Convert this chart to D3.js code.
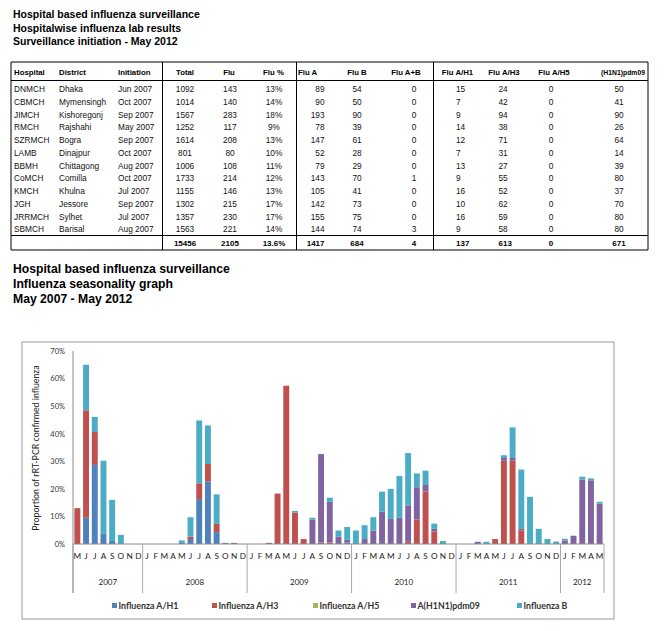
<!DOCTYPE html>
<html><head><meta charset="utf-8">
<script src="https://cdn.jsdelivr.net/npm/d3@7"></script>
<style>body{margin:0;background:#fff}svg{display:block}</style>
</head><body>
<script>
// ---------- TABLE DATA ----------
const hospitals = ["DNMCH","CBMCH","JIMCH","RMCH","SZRMCH","LAMB","BBMH","CoMCH","KMCH","JGH","JRRMCH","SBMCH"];
const districts = ["Dhaka","Mymensingh","Kishoregonj","Rajshahi","Bogra","Dinajpur","Chittagong","Comilla","Khulna","Jessore","Sylhet","Barisal"];
const initiation = ["Jun 2007","Oct 2007","Sep 2007","May 2007","Sep 2007","Oct 2007","Aug 2007","Oct 2007","Jul 2007","Sep 2007","Jul 2007","Aug 2007"];
const totalTested = [1092,1014,1567,1252,1614,801,1006,1733,1155,1302,1357,1563];
const fluPos = [143,140,283,117,208,80,108,214,146,215,230,221];
const fluPct = ["13%","14%","18%","9%","13%","10%","11%","12%","13%","17%","17%","14%"];
const fluA = [89,90,193,78,147,52,79,143,105,142,155,144];
const fluB = [54,50,90,39,61,28,29,70,41,73,75,74];
const fluAB = [0,0,0,0,0,0,0,1,0,0,0,3];
const fluH1 = [15,7,9,14,12,7,13,9,16,10,16,9];
const fluH3 = [24,42,94,38,71,31,27,55,52,62,59,58];
const fluH5 = [0,0,0,0,0,0,0,0,0,0,0,0];
const fluPdm = [50,41,90,26,64,14,39,80,37,70,80,80];
const totalsRow = ["","","","15456","2105","13.6%","1417","684","4","137","613","0","671"];
const tableHeaders = ["Hospital","District","Initiation","Total","Flu","Flu %","Flu A","Flu B","Flu A+B","Flu A/H1","Flu A/H3","Flu A/H5","(H1N1)pdm09"];

// ---------- CHART DATA (percent of tested, by month May 2007 - May 2012) ----------
const monthLabels = [
 "M","J","J","A","S","O","N","D",
 "J","F","M","A","M","J","J","A","S","O","N","D",
 "J","F","M","A","M","J","J","A","S","O","N","D",
 "J","F","M","A","M","J","J","A","S","O","N","D",
 "J","F","M","A","M","J","J","A","S","O","N","D",
 "J","F","M","A","M"];
const yearLabels = ["2007","2008","2009","2010","2011","2012"];
const yearMonthCounts = [8,12,12,12,12,5];
const seriesNames = ["Influenza A/H1","Influenza A/H3","Influenza A/H5","A(H1N1)pdm09","Influenza B"];
const h1 = [0,9.5,28.7,3.7,1.1,0,0,0,
 0,0,0,0,0.4,1.8,16.3,22.7,4.3,0.4,0,0,
 0,0,0,0,0,0,0,0,0,0,0,0.5,
 0,0,0,0,0,0,0,0,0,0,0,0,
 0,0,0,0,0,0,0,0,0,0,0,0,
 0,0,0,0,0];
const h3 = [13.0,39.0,11.9,0,0,0,0,0,
 0,0,0,0,0,0.9,5.7,6.3,3.0,0,0.4,0,
 0,0,0.4,18.3,57.4,11.4,1.8,0,0.5,0.6,0,0,
 0,0,0,0,0,0,0.8,8.9,19.0,4.5,0,0,
 0,0,0,0,1.8,30.2,30.2,4.9,0,0,0,0,
 0,0,0,0,0];
const h5 = [0,0,0,0,0,0,0,0,
 0,0,0,0,0,0,0,0,0,0,0,0,
 0,0,0,0,0,0,0,0,0,0,0,0,
 0,0,0,0,0,0,0,0,0,0,0,0,
 0,0,0,0,0,0,0,0,0,0,0,0,
 0,0,0,0,0];
const pdm09 = [0,0,0,0,0,0,0,0,
 0,0,0,0,0,0,0,0,0,0,0,0,
 0,0,0,0,0,0,0,8.9,32.1,14.7,2.7,1.0,
 0,1.8,4.9,11.7,9.1,9.5,13.2,11.7,2.4,1.0,0,0,
 0,0,0.8,0,0,1.0,1.0,0.8,0,0,0,0,
 1.3,3.0,23.4,23.1,14.7];
const fluBpct = [0,16.5,5.5,26.5,14.9,3.3,0,0,
 0,0,0,0,0.9,7.0,22.8,14.0,10.7,0,0,0,
 0,0,0,0,0,0.6,0,0.6,0,1.5,2.2,4.7,
 4.9,5.0,4.8,7.3,10.9,15.2,19.0,5.0,5.2,1.9,1.1,0,
 0,0,0,0.8,0,1.0,11.1,21.3,17.1,5.5,1.8,0.9,
 0.6,0,1.0,0.7,0.6];
const yTicks = [0,0.1,0.2,0.3,0.4,0.5,0.6,0.7];
const colors = ["#4F81BD","#C0504D","#9BBB59","#8064A2","#4BACC6"];

// ---------- SVG ----------
const W = 665, H = 631;
const svg = d3.select("body").append("svg").attr("width", W).attr("height", H);
const AR = "'Liberation Sans', Arial, sans-serif";

// Top titles
["Hospital based influenza surveillance","Hospitalwise influenza lab results","Surveillance initiation - May 2012"]
 .forEach((t,i)=>svg.append("text").attr("x",13).attr("y",18.3+i*13.5)
   .attr("font-family",AR).attr("font-weight","bold").attr("font-size",10.5).attr("fill","#000").text(t));

// Table
const tbl = svg.append("g").attr("font-family",AR).attr("font-size",8.3).attr("fill","#000");
const colDefs = [
 {hx:14,ha:"start",vx:14,va:"start"},
 {hx:59,ha:"start",vx:59,va:"start"},
 {hx:118,ha:"start",vx:118,va:"start"},
 {hx:185,ha:"middle",vx:185,va:"middle"},
 {hx:229,ha:"middle",vx:230,va:"middle"},
 {hx:273.5,ha:"middle",vx:274,va:"middle"},
 {hx:298,ha:"start",vx:324.5,va:"end"},
 {hx:357,ha:"middle",vx:357,va:"middle"},
 {hx:406,ha:"middle",vx:414,va:"middle"},
 {hx:457.5,ha:"middle",vx:456,va:"start"},
 {hx:504,ha:"middle",vx:498.5,va:"start"},
 {hx:554,ha:"middle",vx:551,va:"middle"},
 {hx:623,ha:"middle",vx:619,va:"middle"}];
const rows = hospitals.map((h,i)=>[h,districts[i],initiation[i],totalTested[i],fluPos[i],fluPct[i],fluA[i],fluB[i],fluAB[i],fluH1[i],fluH3[i],fluH5[i],fluPdm[i]]);
const tL = 11, tR = 648, tTop = 62, tHead = 80.5, tTot = 235.5, tBot = 250;
[tTop,tHead,tTot,tBot].forEach(y=>tbl.append("line").attr("x1",tL).attr("x2",tR).attr("y1",y).attr("y2",y).attr("stroke","#000").attr("stroke-width",1));
[tL,162.5,296.5,433.5,tR].forEach(x=>tbl.append("line").attr("x1",x).attr("x2",x).attr("y1",tTop).attr("y2",tBot).attr("stroke","#000").attr("stroke-width",1));
tableHeaders.forEach((h,j)=>{
  const t = tbl.append("text").attr("x",colDefs[j].hx).attr("y",75).attr("text-anchor",colDefs[j].ha).attr("font-weight","bold").attr("font-size",7.8).text(h);
  if (j === tableHeaders.length-1) t.attr("textLength",44).attr("lengthAdjust","spacingAndGlyphs");
});
rows.forEach((r,i)=>r.forEach((v,j)=>tbl.append("text").attr("x",colDefs[j].vx).attr("y",92+i*12.75).attr("text-anchor",colDefs[j].va).attr("fill","#111").text(v)));
totalsRow.forEach((v,j)=>{ if(v!=="") tbl.append("text").attr("x",colDefs[j].vx).attr("y",246).attr("text-anchor",colDefs[j].va).attr("font-weight","bold").attr("font-size",8).text(v);});

// Second titles
["Hospital based influenza surveillance","Influenza seasonality graph","May 2007 - May 2012"]
 .forEach((t,i)=>svg.append("text").attr("x",13).attr("y",273+i*15.2)
   .attr("font-family",AR).attr("font-weight","bold").attr("font-size",12.2).attr("fill","#000").text(t));

// Chart frame
const CF = "Lato, 'Open Sans', sans-serif";
svg.append("rect").attr("x",22).attr("y",342).attr("width",592).attr("height",277).attr("fill","#fff").attr("stroke","#9a9a9a").attr("stroke-width",1);

const x0 = 73, x1 = 604, y0 = 544, yTop = 351;
const x = d3.scaleBand().domain(d3.range(monthLabels.length)).range([x0,x1]).paddingInner(0.32).paddingOuter(0.16);
const y = d3.scaleLinear().domain([0,0.7]).range([y0,yTop]);

const data = monthLabels.map((m,i)=>({i, h1:h1[i]/100, h3:h3[i]/100, h5:h5[i]/100, pdm:pdm09[i]/100, b:fluBpct[i]/100}));
const keys = ["h1","h3","h5","pdm","b"];
const stacked = d3.stack().keys(keys)(data);

const g = svg.append("g");
stacked.forEach((layer,k)=>{
  g.append("g").attr("fill",colors[k]).selectAll("rect").data(layer.filter(d=>d[1]-d[0]>0)).join("rect")
   .attr("x",d=>x(d.data.i)).attr("width",x.bandwidth())
   .attr("y",d=>y(d[1])).attr("height",d=>y(d[0])-y(d[1]));
});

// y axis
const yAxis = d3.axisLeft(y).tickValues(yTicks).tickFormat(d3.format(".0%")).tickSize(0).tickPadding(8);
const ya = svg.append("g").attr("transform",`translate(${x0},0)`).call(yAxis);
ya.select(".domain").remove();
ya.selectAll("text").attr("font-family",CF).attr("font-size",7.5).attr("fill","#333");
svg.append("line").attr("x1",x0).attr("x2",x0).attr("y1",yTop).attr("y2",593).attr("stroke","#8a8a8a");
svg.append("line").attr("x1",x0).attr("x2",x1).attr("y1",y0).attr("y2",y0).attr("stroke","#8a8a8a");

// Y title
svg.append("text").attr("transform","translate(39,448) rotate(-90)").attr("text-anchor","middle")
  .attr("font-family",CF).attr("font-size",8.8).attr("fill","#222").text("Proportion of rRT-PCR confirmed influenza");

// month labels
const xAxis = d3.axisBottom(x).tickFormat(i=>monthLabels[i]).tickSize(0).tickPadding(9);
const xa = svg.append("g").attr("transform",`translate(0,${y0})`).call(xAxis);
xa.select(".domain").remove();
xa.selectAll("text").attr("font-family",CF).attr("font-size",8.2).attr("fill","#222");

// year separators and labels
const halfGap = x.step()*x.paddingInner()/2;
let idx = 0;
const bounds = [x0];
yearMonthCounts.forEach(c=>{ idx += c; bounds.push(idx < monthLabels.length ? x(idx)-halfGap : x1); });
bounds.forEach(b=>svg.append("line").attr("x1",b).attr("x2",b).attr("y1",y0).attr("y2",593).attr("stroke","#a8a8a8"));
yearLabels.forEach((yl,k)=>svg.append("text").attr("x",(bounds[k]+bounds[k+1])/2).attr("y",585)
  .attr("text-anchor","middle").attr("font-family",CF).attr("font-size",8).attr("fill","#222").text(yl));

// legend
const legX = [112,212,313,411,517];
seriesNames.forEach((s,k)=>{
  svg.append("rect").attr("x",legX[k]).attr("y",603).attr("width",5).attr("height",5).attr("fill",colors[k]);
  svg.append("text").attr("x",legX[k]+6.5).attr("y",608.5).attr("font-family",CF).attr("font-weight","bold")
    .attr("font-size",8.8).attr("fill","#333").text(s);
});
</script>
</body></html>
